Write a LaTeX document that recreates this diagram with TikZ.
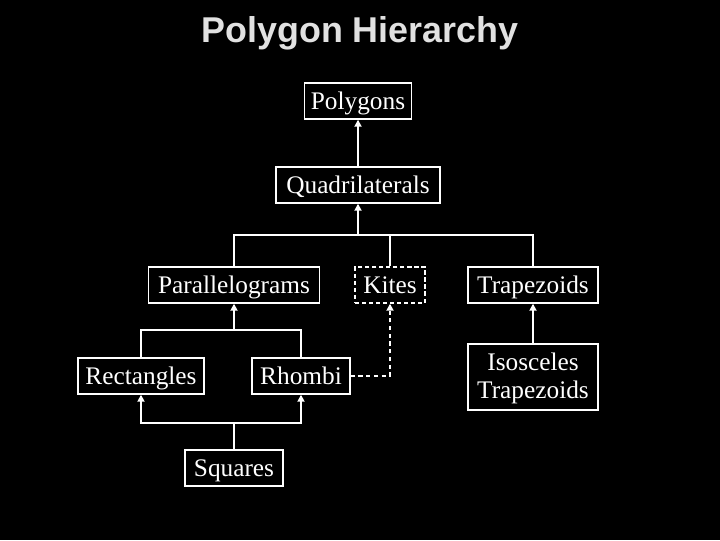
\documentclass[tikz,border=0pt]{standalone}
\usepackage{fontspec}
\setmainfont{Liberation Serif}
\newfontfamily\titlefont{Liberation Sans}
\usetikzlibrary{arrows.meta, positioning}
\definecolor{bgcolor}{RGB}{0, 0, 0}
\definecolor{linecolor}{RGB}{255, 255, 255}
\definecolor{titlecolor}{RGB}{225, 225, 225}
\tikzset{
  box/.style={
    rectangle, draw=linecolor, line width=1pt,
    text=linecolor, fill=bgcolor,
    minimum height=0.9cm, inner xsep=0.12cm,
    text height=0.5cm, text depth=0.08cm,
    font=\fontsize{18}{19.9}\selectfont, align=center
  },
  dashbox/.style={
    box, dashed, dash pattern=on 3pt off 2pt
  },
  link/.style={
    line width=1.4pt, color=linecolor
  },
  arr/.style={
    link, -{Triangle[length=5pt, width=5pt]}
  },
  dasharr/.style={
    arr, dash pattern=on 3pt off 2.5pt
  }
}

\begin{document}
\begin{tikzpicture}[x=0.025cm, y=-0.025cm]

  % ── Background ─────────────────────────────────────────────
  \fill[bgcolor] (0,0) rectangle (720,540);
  \useasboundingbox (0,0) rectangle (720,540);

  % ── Title ──────────────────────────────────────────────────
  \node[font=\titlefont\bfseries\fontsize{25.5}{30}\selectfont, text=titlecolor] (title) at (360,33) {Polygon Hierarchy};

  % ── Top levels ─────────────────────────────────────────────
  \node[box, minimum width=2.68cm] (poly) at (358,101) {Polygons};
  \node[box, minimum width=4.1cm]  (quad) at (358,185) {Quadrilaterals};

  % ── Middle level ───────────────────────────────────────────
  \node[box, minimum width=4.28cm]     (para) at (234,285) {Parallelograms};
  \node[dashbox, minimum width=1.75cm] (kite) at (390,285) {Kites};
  \node[box, minimum width=3.25cm]     (trap) at (533,285) {Trapezoids};

  % ── Lower levels ───────────────────────────────────────────
  \node[box, minimum width=3.15cm] (rect) at (141,376) {Rectangles};
  \node[box, minimum width=2.45cm] (rhom) at (301,376) {Rhombi};
  \node[box, minimum width=3.25cm, minimum height=1.65cm, inner ysep=0pt,
        text height=1.13cm, text depth=0.08cm] (isos) at (533,377) {Isosceles\\Trapezoids};
  \node[box, minimum width=2.45cm] (squa) at (234,468) {Squares};

  % ── Junctions ──────────────────────────────────────────────
  \coordinate (bus1) at (358,235);
  \coordinate (bus2) at (234,330);
  \coordinate (bus3) at (234,423);

  % ── Connectors ─────────────────────────────────────────────
  \draw[arr]  (quad.north) -- (poly.south);
  \draw[arr]  (bus1) -- (quad.south);
  \draw[link] (para.north) |- (bus1) -| (trap.north);
  \draw[link] (kite.north) -- (kite.north |- bus1);
  \draw[arr]  (isos.north) -- (trap.south);

  \draw[arr]  (bus2) -- (para.south);
  \draw[link] (rect.north) |- (bus2) -| (rhom.north);

  \draw[link] (squa.north) -- (bus3);
  \draw[arr]  (bus3) -| (rect.south);
  \draw[arr]  (bus3) -| (rhom.south);

  \draw[dasharr] (rhom.east) -| (kite.south);

\end{tikzpicture}
\end{document}
